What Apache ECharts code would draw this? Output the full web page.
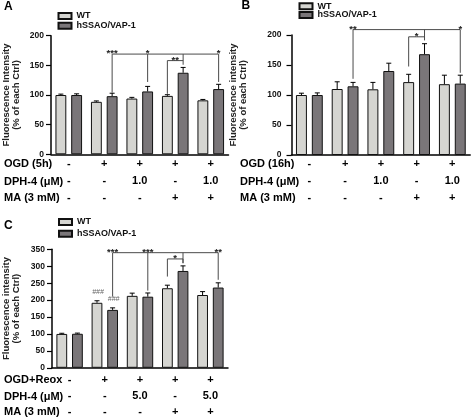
<!DOCTYPE html>
<html><head><meta charset="utf-8">
<script src="https://cdn.jsdelivr.net/npm/echarts@6/dist/echarts.min.js"></script>
<style>html,body{margin:0;padding:0;background:#fff}#c{width:471px;height:417px}</style>
</head><body><div id="c"></div>
<script>
const categories = ['Ctrl', 'OGD', 'OGD+DPH-4', 'OGD+MA', 'OGD+DPH-4+MA'];
const seriesNames = ['WT', 'hSSAO/VAP-1'];

// Panel A
const wtA = [100, 88.5, 94, 98.5, 91];
const wtErrA = [1.5, 1.5, 2, 2, 1.5];
const hsA = [100, 98, 106, 137.5, 110];
const hsErrA = [2, 5, 8.5, 9, 8];
const rowNamesA = ['OGD (5h)', 'DPH-4 (μM)', 'MA (3 mM)'];
const ogdA = ['-', '+', '+', '+', '+'];
const dphA = ['-', '-', '1.0', '-', '1.0'];
const maA = ['-', '-', '-', '+', '+'];
const yTitleA = 'Fluorescence Intensity\n(% of each Ctrl)';
// bracket polylines: [category, side(-1 WT, +1 hSSAO, 0 centre), value]
const bracketsA = [
  [[1, 1, 104], [1, 1, 169], [4, 1, 169], [4, 1, 122]],
  [[2, 1, 122], [2, 1, 169]],
  [[3, 1, 151], [3, 1, 169]],
  [[3, -1, 102], [3, -1, 158], [3, 1, 158]]
];
const starsA = [[1, 1, 169, '***'], [2, 1, 169, '*'], [4, 1, 169, '*'], [3, 0, 158, '**']];
const hashA = [];

// Panel B
const wtB = [100, 110, 109.5, 121.5, 118];
const wtErrB = [3, 12, 11.5, 13, 15];
const hsB = [100, 114.5, 140, 168, 119];
const hsErrB = [3.5, 6.5, 13, 17.5, 14];
const rowNamesB = ['OGD (16h)', 'DPH-4 (μM)', 'MA (3 mM)'];
const ogdB = ['-', '+', '+', '+', '+'];
const dphB = ['-', '-', '1.0', '-', '1.0'];
const maB = ['-', '-', '-', '+', '+'];
const yTitleB = 'Fluorescence intensity\n(% of each Ctrl)';
const bracketsB = [
  [[1, 1, 127], [1, 1, 209], [4, 1, 209], [4, 1, 137]],
  [[3, 1, 191], [3, 1, 209]],
  [[3, -1, 147.5], [3, -1, 197], [3, 1, 197]]
];
const starsB = [[1, 1, 209, '**'], [4, 1, 209, '*'], [3, 0, 197, '*']];
const hashB = [];

// Panel C
const wtC = [100, 192, 212.5, 235, 215];
const wtErrC = [2, 6, 8, 9, 10];
const hsC = [100.5, 171, 210, 286, 237];
const hsErrC = [2, 6, 11, 15, 14];
const rowNamesC = ['OGD+Reox', 'DPH-4 (μM)', 'MA (3 mM)'];
const ogdC = ['-', '+', '+', '+', '+'];
const dphC = ['-', '-', '5.0', '-', '5.0'];
const maC = ['-', '-', '-', '+', '+'];
const yTitleC = 'Fluorescence intensity\n(% of each Ctrl)';
const bracketsC = [
  [[1, 1, 210], [1, 1, 340], [4, 1, 340], [4, 1, 260]],
  [[2, 1, 228], [2, 1, 340]],
  [[3, 1, 309], [3, 1, 340]],
  [[3, -1, 269.5], [3, -1, 321.5], [3, 1, 321.5], [3, 1, 309]]
];
const starsC = [[1, 1, 340, '***'], [2, 1, 340, '***'], [4, 1, 340, '**'], [3, 0, 321.5, '*']];
const hashC = [[1, -1, 198, '###'], [1, 1, 176.5, '###']];

const FONT = '"Liberation Sans", Arial, Helvetica, sans-serif';
const WT_COLOR = '#d5d5d1';
const HS_COLOR = '#7a7679';
const CATGAP = 0.25, GAP = 0.45;

const panels = [
  {wt: wtA, wtErr: wtErrA, hs: hsA, hsErr: hsErrA, rows: [ogdA, dphA, maA], rowNames: rowNamesA,
   yTitle: yTitleA, yMax: 200, brackets: bracketsA, stars: starsA, hashes: hashA,
   grid: {left: 49, right: 242.5, top: 35.7, bottom: 262.7}, nameGap: 30, labelMargin: 7,
   xMargin: 1.5, lineH: 17, rowY: [164.3, 181.7, 198.3], rowX: 4,
   legendX: 57.5, legendY: [16, 25.8], letter: 'A', letterPos: [4, 7]},
  {wt: wtB, wtErr: wtErrB, hs: hsB, hsErr: hsErrB, rows: [ogdB, dphB, maB], rowNames: rowNamesB,
   yTitle: yTitleB, yMax: 200, brackets: bracketsB, stars: starsB, hashes: hashB,
   grid: {left: 291.5, right: 0.8, top: 35, bottom: 262}, nameGap: 43, labelMargin: 10,
   xMargin: 0.8, lineH: 17, rowY: [164.3, 182.2, 198.3], rowX: 240,
   legendX: 298.5, legendY: [6.2, 15], letter: 'B', letterPos: [241.5, 6]},
  {wt: wtC, wtErr: wtErrC, hs: hsC, hsErr: hsErrC, rows: [ogdC, dphC, maC], rowNames: rowNamesC,
   yTitle: yTitleC, yMax: 350, brackets: bracketsC, stars: starsC, hashes: hashC,
   grid: {left: 49.6, right: 243, top: 249.3, bottom: 48.7}, nameGap: 31, labelMargin: 7,
   xMargin: 3.7, lineH: 16, rowY: [380, 396.7, 411.7], rowX: 4,
   legendX: 58, legendY: [222, 233.7], letter: 'C', letterPos: [4, 226]}
];

function xOf(api, cat, side) {
  const c = api.coord([cat, 0])[0];
  const band = api.size([1, 0])[0];
  const w = band * (1 - CATGAP) / (2 + GAP);
  return c + side * w * (1 + GAP) / 2;
}

const grids = [], xAxes = [], yAxes = [], series = [], legends = [], graphics = [];

panels.forEach((p, k) => {
  grids.push(Object.assign({containLabel: false}, p.grid));
  xAxes.push({
    type: 'category', gridIndex: k, data: categories,
    axisLine: {lineStyle: {color: '#000', width: 1.5}},
    axisTick: {alignWithLabel: true, length: 3, lineStyle: {color: '#000', width: 1.2}},
    axisLabel: {
      interval: 0, margin: p.xMargin,
      formatter: (v, i) => p.rows.map(r => '{r|' + r[i] + '}').join('\n'),
      rich: {r: {fontFamily: FONT, fontSize: 11, fontWeight: 'bold', color: '#000', lineHeight: p.lineH}}
    }
  });
  yAxes.push({
    type: 'value', gridIndex: k, min: 0, max: p.yMax, interval: 50,
    name: p.yTitle, nameLocation: 'middle', nameRotate: 90, nameGap: p.nameGap,
    nameTextStyle: {fontFamily: FONT, fontSize: 9.5, fontWeight: 'bold', color: '#222', lineHeight: 10},
    axisLine: {show: true, lineStyle: {color: '#000', width: 1.5}},
    axisTick: {show: true, length: 5, lineStyle: {color: '#000', width: 1.2}},
    axisLabel: {fontFamily: FONT, fontSize: 8.5, fontWeight: 'bold', color: '#111', margin: p.labelMargin},
    splitLine: {show: false}
  });
  [[p.wt, WT_COLOR, 0], [p.hs, HS_COLOR, 1]].forEach(([vals, color, j]) => {
    series.push({
      type: 'bar', name: seriesNames[j], xAxisIndex: k, yAxisIndex: k, data: vals,
      barCategoryGap: (CATGAP * 100) + '%', barGap: (GAP * 100) + '%',
      itemStyle: {color: color, borderColor: '#111', borderWidth: 1}, z: 2, silent: true
    });
  });
  [[p.wt, p.wtErr, -1], [p.hs, p.hsErr, 1]].forEach(([vals, errs, side]) => {
    series.push({
      type: 'custom', xAxisIndex: k, yAxisIndex: k, z: 3, silent: true,
      data: vals.map((v, i) => [i, v, errs[i]]),
      encode: {x: 0, y: 1},
      renderItem: (params, api) => {
        const i = api.value(0), v = api.value(1), e = api.value(2);
        const x = xOf(api, i, side);
        const y0 = api.coord([i, v])[1], y1 = api.coord([i, v + e])[1];
        return {type: 'group', children: [
          {type: 'line', shape: {x1: x, y1: y0, x2: x, y2: y1}, style: {stroke: '#000', lineWidth: 1}},
          {type: 'line', shape: {x1: x - 2.5, y1: y1, x2: x + 2.5, y2: y1}, style: {stroke: '#000', lineWidth: 1}}
        ]};
      }
    });
  });
  series.push({
    type: 'custom', xAxisIndex: k, yAxisIndex: k, z: 4, silent: true,
    data: [[0, 0]], encode: {x: 0, y: 1},
    renderItem: (params, api) => {
      const children = [];
      p.brackets.forEach(b => {
        const pts = b.map(([c, s, v]) => [xOf(api, c, s), api.coord([c, v])[1]]);
        children.push({type: 'polyline', shape: {points: pts}, style: {stroke: '#4a4a4a', lineWidth: 1, fill: null}});
      });
      p.stars.forEach(([c, s, v, t]) => {
        children.push({type: 'text', x: xOf(api, c, s), y: api.coord([c, v])[1] - 0.5,
          style: {text: t, fill: '#222', font: 'bold 9.5px ' + FONT, align: 'center', verticalAlign: 'middle'}});
      });
      p.hashes.forEach(([c, s, v, t]) => {
        children.push({type: 'text', x: xOf(api, c, s) + 1, y: api.coord([c, v])[1] - 5,
          style: {text: t, fill: '#666', font: 'italic 7px ' + FONT, align: 'center', verticalAlign: 'bottom'}});
      });
      return {type: 'group', children};
    }
  });
  seriesNames.forEach((n, j) => {
    legends.push({
      data: [n], left: p.legendX, top: p.legendY[j] - 5, padding: 0, orient: 'vertical',
      itemWidth: 13, itemHeight: 6, icon: 'rect', selectedMode: false,
      textStyle: {fontFamily: FONT, fontSize: 9, fontWeight: 'bold', color: '#111', lineHeight: 10}
    });
  });
  p.rowNames.forEach((t, r) => {
    graphics.push({type: 'text', x: p.rowX, y: p.rowY[r],
      style: {text: t, fill: '#000', font: 'bold 11px ' + FONT, verticalAlign: 'middle'}});
  });
  graphics.push({type: 'text', x: p.letterPos[0], y: p.letterPos[1],
    style: {text: p.letter, fill: '#000', font: 'bold 12px ' + FONT, verticalAlign: 'middle'}});
});

const chart = echarts.init(document.getElementById('c'), null, {renderer: 'canvas'});
chart.setOption({
  animation: false,
  backgroundColor: '#fff',
  grid: grids, xAxis: xAxes, yAxis: yAxes, series: series, legend: legends, graphic: graphics
});
</script>
</body></html>
